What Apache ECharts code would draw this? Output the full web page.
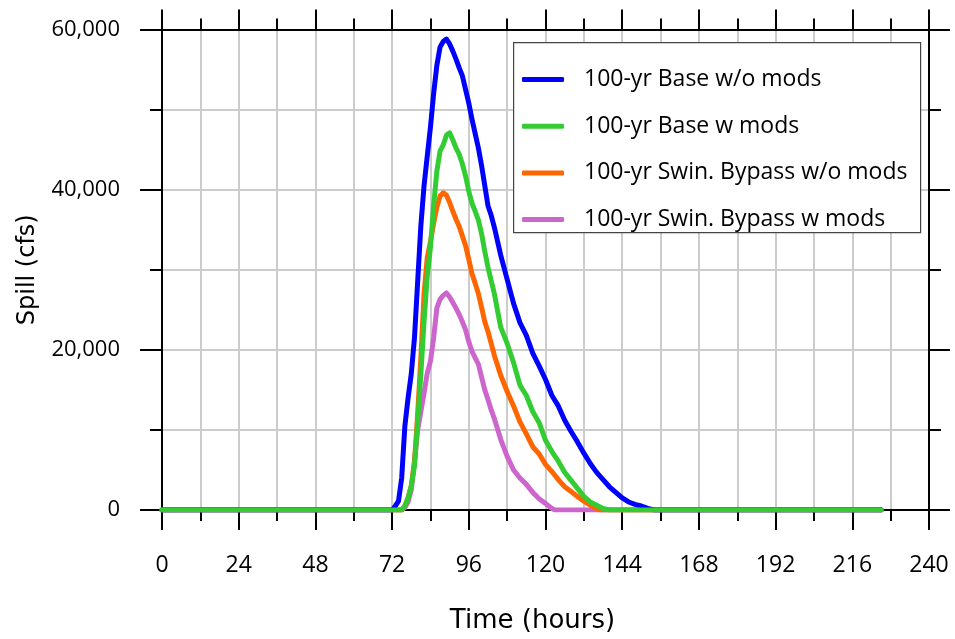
<!DOCTYPE html>
<html>
<head>
<meta charset="utf-8">
<script src="https://cdn.jsdelivr.net/npm/echarts@6/dist/echarts.min.js"></script>
<style>
html,body{margin:0;padding:0;background:#fff;}
#chart{width:955px;height:639px;}
</style>
</head>
<body>
<div id="chart"></div>
<script>
// ---- Data (hours, spill in cfs) ----
var seriesNames = [
  '100-yr Base w/o mods',
  '100-yr Base w mods',
  '100-yr Swin. Bypass w/o mods',
  '100-yr Swin. Bypass w mods'
];
var xTicks = [0, 24, 48, 72, 96, 120, 144, 168, 192, 216, 240];
var yTicks = [0, 20000, 40000, 60000];

var baseNoModsHours = [0, 72, 73, 74, 75, 76, 77, 78, 79, 80, 81, 82, 83, 84, 85, 86, 87, 88, 89, 90, 91, 92, 93, 94, 95, 96, 97, 98, 99, 100, 101, 102, 103, 104, 106, 108, 110, 112, 114, 116, 118, 120, 122, 124, 126, 128, 130, 132, 134, 136, 138, 140, 142, 144, 146, 148, 150, 152, 154, 225];
var baseNoModsSpill = [0, 0, 500, 1100, 4000, 10500, 14000, 17000, 21500, 28500, 35500, 40500, 44200, 47800, 52000, 55500, 57800, 58500, 58800, 58200, 57300, 56300, 55200, 54200, 52500, 50800, 48800, 47000, 45200, 43000, 40500, 38000, 36800, 35300, 31800, 28800, 25800, 23400, 21800, 19600, 18000, 16300, 14300, 13000, 11200, 9800, 8500, 7100, 5800, 4700, 3800, 2900, 2200, 1500, 1000, 700, 500, 200, 0, 0];

var baseModsHours = [0, 75, 76, 77, 78, 79, 80, 81, 82, 83, 84, 85, 86, 87, 88, 89, 90, 91, 92, 93, 94, 95, 96, 97, 98, 99, 100, 101, 102, 104, 106, 108, 110, 112, 114, 116, 118, 120, 122, 124, 126, 128, 130, 132, 134, 136, 138, 140, 225];
var baseModsSpill = [0, 0, 500, 1500, 3000, 5500, 11000, 17000, 23500, 29200, 32800, 38000, 42300, 44800, 45600, 46800, 47100, 46200, 45200, 44400, 43200, 41700, 39800, 38300, 37300, 36200, 34500, 32300, 30300, 27000, 22800, 20800, 18400, 15600, 14300, 12300, 10900, 8700, 7300, 6100, 4700, 3700, 2700, 1700, 1000, 600, 200, 0, 0];

var bypassNoModsHours = [0, 75, 76, 77, 78, 79, 80, 81, 82, 83, 84, 85, 86, 87, 88, 89, 90, 91, 92, 93, 94, 95, 96, 97, 98, 99, 100, 101, 102, 104, 106, 108, 110, 112, 114, 116, 118, 120, 122, 124, 126, 128, 130, 132, 134, 136, 137, 225];
var bypassNoModsSpill = [0, 0, 500, 1500, 3000, 6000, 12000, 19000, 27000, 31500, 33500, 35800, 37800, 39200, 39600, 39300, 38400, 37300, 36300, 35400, 34200, 33000, 31300, 29500, 28300, 27000, 25300, 23500, 22300, 19300, 16800, 14800, 13000, 11000, 9500, 7900, 7000, 5700, 4800, 3800, 2900, 2300, 1700, 1100, 600, 200, 0, 0];

var bypassModsHours = [0, 75, 76, 77, 78, 79, 80, 81, 82, 83, 84, 85, 86, 87, 88, 89, 90, 91, 92, 93, 94, 95, 96, 97, 98, 99, 100, 101, 102, 103, 104, 106, 108, 110, 112, 114, 116, 118, 120, 122, 123, 225];
var bypassModsSpill = [0, 0, 300, 1000, 2500, 6000, 10000, 12300, 14600, 17100, 18600, 21500, 25200, 26300, 26800, 27100, 26600, 25900, 25200, 24400, 23500, 22500, 21000, 19800, 19000, 18200, 16600, 15000, 13800, 12500, 11400, 8800, 6700, 5000, 4000, 3200, 2200, 1400, 800, 200, 0, 0];

var colors = ['#0000ff', '#33cc33', '#ff6600', '#cc66cc'];

function pairs(h, v) { return h.map(function (x, i) { return [x, v[i]]; }); }

var chart = echarts.init(document.getElementById('chart'), null, {renderer: 'canvas'});

var gridColor = '#cccccc';
var FONT = 'Open Sans';
var TITLE_FONT = 'DejaVu Sans';

function lineSeries(idx, h, v) {
  return {
    name: seriesNames[idx],
    type: 'line',
    data: pairs(h, v),
    symbol: 'none',
    smooth: false,
    lineStyle: {color: colors[idx], width: 5, join: 'round', cap: 'round'},
    itemStyle: {color: colors[idx]},
    z: 3,
    animation: false
  };
}

var option = {
  backgroundColor: '#ffffff',
  animation: false,
  grid: {left: 162, right: 26, top: 29.5, bottom: 129, containLabel: false},
  xAxis: [
    {
      type: 'value', position: 'bottom',
      min: xTicks[0], max: xTicks[xTicks.length - 1], interval: 24,
      name: 'Time (hours)', nameLocation: 'middle', nameGap: 98,
      nameTextStyle: {fontFamily: TITLE_FONT, fontSize: 26, color: '#000', padding: [0, 26, 0, 0]},
      axisLine: {show: true, onZero: false, lineStyle: {color: '#000', width: 2}},
      axisTick: {show: true, inside: false, length: 20, lineStyle: {color: '#000', width: 2}},
      minorTick: {show: true, splitNumber: 2, length: 11, lineStyle: {color: '#000', width: 2}},
      axisLabel: {show: true, margin: 44, fontFamily: FONT, fontSize: 23, color: '#000'},
      splitLine: {show: true, lineStyle: {color: gridColor, width: 2}},
      minorSplitLine: {show: true, lineStyle: {color: gridColor, width: 2}}
    },
    {
      type: 'value', position: 'top',
      min: xTicks[0], max: xTicks[xTicks.length - 1], interval: 24,
      axisLine: {show: true, onZero: false, lineStyle: {color: '#000', width: 2}},
      axisTick: {show: true, inside: false, length: 20, lineStyle: {color: '#000', width: 2}},
      minorTick: {show: true, splitNumber: 2, length: 11, lineStyle: {color: '#000', width: 2}},
      axisLabel: {show: false},
      splitLine: {show: false}
    }
  ],
  yAxis: [
    {
      type: 'value', position: 'left',
      min: yTicks[0], max: yTicks[yTicks.length - 1], interval: 20000,
      name: 'Spill (cfs)', nameLocation: 'middle', nameGap: 122, nameRotate: 90,
      nameTextStyle: {fontFamily: TITLE_FONT, fontSize: 24, color: '#000'},
      axisLine: {show: true, onZero: false, lineStyle: {color: '#000', width: 2}},
      axisTick: {show: true, inside: false, length: 22, lineStyle: {color: '#000', width: 2}},
      minorTick: {show: true, splitNumber: 2, length: 12, lineStyle: {color: '#000', width: 2}},
      axisLabel: {
        show: true, margin: 42, fontFamily: FONT, fontSize: 22, color: '#000',
        formatter: function (v) { return v.toLocaleString('en-US'); }
      },
      splitLine: {show: true, lineStyle: {color: gridColor, width: 2}},
      minorSplitLine: {show: true, lineStyle: {color: gridColor, width: 2}}
    },
    {
      type: 'value', position: 'right',
      min: yTicks[0], max: yTicks[yTicks.length - 1], interval: 20000,
      axisLine: {show: true, onZero: false, lineStyle: {color: '#000', width: 2}},
      axisTick: {show: true, inside: false, length: 21, lineStyle: {color: '#000', width: 2}},
      minorTick: {show: true, splitNumber: 2, length: 12, lineStyle: {color: '#000', width: 2}},
      axisLabel: {show: false},
      splitLine: {show: false}
    }
  ],
  graphic: [
    {
      type: 'rect', left: 513, top: 42, z: 50,
      shape: {width: 407, height: 190},
      style: {fill: '#ffffff', stroke: '#444', lineWidth: 1.2}
    }
  ],
  legend: {
    show: true,
    orient: 'vertical',
    left: 522, top: 68,
    padding: 0,
    itemWidth: 42, itemHeight: 5,
    itemGap: 23.7,
    icon: 'roundRect',
    z: 60,
    data: seriesNames.slice(),
    textStyle: {fontFamily: FONT, fontSize: 23, color: '#000', lineHeight: 20, padding: [0, 0, 0, 15]}
  },
  series: [
    lineSeries(3, bypassModsHours, bypassModsSpill),
    lineSeries(2, bypassNoModsHours, bypassNoModsSpill),
    lineSeries(0, baseNoModsHours, baseNoModsSpill),
    lineSeries(1, baseModsHours, baseModsSpill)
  ]
};

chart.setOption(option);
</script>
</body>
</html>
